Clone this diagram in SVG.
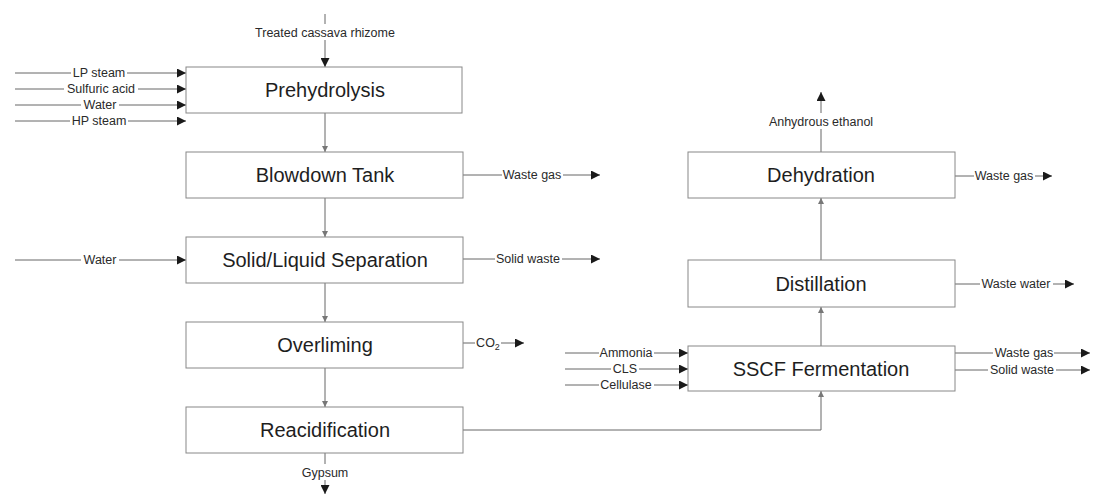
<svg xmlns="http://www.w3.org/2000/svg" width="1094" height="495" viewBox="0 0 1094 495">
<defs>
<marker id="ah" viewBox="0 0 10 10" refX="10" refY="5" markerWidth="9" markerHeight="9" markerUnits="userSpaceOnUse" orient="auto">
<path d="M0,0 L10,5 L0,10 Z" fill="#1a1a1a"/>
</marker>
<marker id="sm" viewBox="0 0 10 10" refX="10" refY="5" markerWidth="6" markerHeight="6" markerUnits="userSpaceOnUse" orient="auto">
<path d="M0,0 L10,5 L0,10 Z" fill="#777"/>
</marker>
</defs>
<style>
.box{fill:#fff;stroke:#888;stroke-width:1}
.bt{font-family:"Liberation Sans",Arial,sans-serif;font-size:20px;fill:#1e1e1e;text-anchor:middle}
.lb{font-family:"Liberation Sans",Arial,sans-serif;font-size:12.5px;fill:#2a2a2a;text-anchor:middle}
.ln{stroke:#666;stroke-width:1;fill:none}
.arr{marker-end:url(#ah)}
.sa{marker-end:url(#sm)}
.bg{fill:#fff}
</style>
<rect width="1094" height="495" fill="#fff"/>
<g id="connectors">
<line class="ln arr" x1="325" y1="14" x2="325" y2="67"/>
<line class="ln arr" x1="15" y1="73" x2="186" y2="73"/>
<line class="ln arr" x1="15" y1="89" x2="186" y2="89"/>
<line class="ln arr" x1="15" y1="105" x2="186" y2="105"/>
<line class="ln arr" x1="15" y1="121" x2="186" y2="121"/>
<line class="ln arr" x1="15" y1="260" x2="186" y2="260"/>
<line class="ln sa" x1="325" y1="113" x2="325" y2="152"/>
<line class="ln sa" x1="325" y1="198" x2="325" y2="237"/>
<line class="ln sa" x1="325" y1="283" x2="325" y2="322"/>
<line class="ln sa" x1="325" y1="368" x2="325" y2="407"/>
<line class="ln arr" x1="325" y1="453" x2="325" y2="494"/>
<line class="ln arr" x1="463" y1="175" x2="600" y2="175"/>
<line class="ln arr" x1="463" y1="259" x2="600" y2="259"/>
<line class="ln arr" x1="463" y1="343" x2="524" y2="343"/>
<polyline class="ln sa" points="463,430 821,430 821,391"/>
<line class="ln sa" x1="821" y1="346" x2="821" y2="307"/>
<line class="ln sa" x1="821" y1="260" x2="821" y2="198"/>
<line class="ln arr" x1="821" y1="152" x2="821" y2="92"/>
<line class="ln arr" x1="565" y1="353" x2="688" y2="353"/>
<line class="ln arr" x1="565" y1="369" x2="688" y2="369"/>
<line class="ln arr" x1="565" y1="385" x2="688" y2="385"/>
<line class="ln arr" x1="955" y1="176" x2="1052" y2="176"/>
<line class="ln arr" x1="955" y1="284" x2="1074" y2="284"/>
<line class="ln arr" x1="955" y1="353" x2="1090" y2="353"/>
<line class="ln arr" x1="955" y1="370" x2="1090" y2="370"/>
</g>
<g id="labels">
<rect class="bg" x="250" y="24" width="150" height="16"/>
<text class="lb" x="325" y="37">Treated cassava rhizome</text>
<rect class="bg" x="71" y="65" width="56" height="15"/>
<text class="lb" x="99" y="77">LP steam</text>
<rect class="bg" x="64" y="81" width="74" height="15"/>
<text class="lb" x="101" y="93">Sulfuric acid</text>
<rect class="bg" x="81" y="97" width="38" height="15"/>
<text class="lb" x="100" y="109">Water</text>
<rect class="bg" x="70" y="113" width="58" height="15"/>
<text class="lb" x="99" y="125">HP steam</text>
<rect class="bg" x="81" y="252" width="38" height="15"/>
<text class="lb" x="100" y="264">Water</text>
<rect class="bg" x="502" y="167" width="61" height="15"/>
<text class="lb" x="532" y="179">Waste gas</text>
<rect class="bg" x="495" y="251" width="67" height="15"/>
<text class="lb" x="528" y="263">Solid waste</text>
<rect class="bg" x="475" y="335" width="26" height="16"/>
<text class="lb" x="488" y="347">CO<tspan font-size="9" dy="3">2</tspan></text>
<rect class="bg" x="300" y="464" width="50" height="16"/>
<text class="lb" x="325" y="477">Gypsum</text>
<rect class="bg" x="765" y="113" width="112" height="16"/>
<text class="lb" x="821" y="126">Anhydrous ethanol</text>
<rect class="bg" x="974" y="168" width="61" height="15"/>
<text class="lb" x="1004" y="180">Waste gas</text>
<rect class="bg" x="980" y="276" width="73" height="15"/>
<text class="lb" x="1016" y="288">Waste water</text>
<rect class="bg" x="599" y="345" width="55" height="15"/>
<text class="lb" x="626" y="357">Ammonia</text>
<rect class="bg" x="611" y="361" width="28" height="15"/>
<text class="lb" x="625" y="373">CLS</text>
<rect class="bg" x="599" y="377" width="55" height="15"/>
<text class="lb" x="626" y="389">Cellulase</text>
<rect class="bg" x="993" y="345" width="61" height="15"/>
<text class="lb" x="1024" y="357">Waste gas</text>
<rect class="bg" x="988" y="362" width="68" height="15"/>
<text class="lb" x="1022" y="374">Solid waste</text>
</g>
<g id="n-prehydrolysis"><rect class="box" x="186" y="67" width="276" height="46"/><text class="bt" x="325" y="97">Prehydrolysis</text></g>
<g id="n-blowdown"><rect class="box" x="186" y="152" width="277" height="46"/><text class="bt" x="325" y="182">Blowdown Tank</text></g>
<g id="n-separation"><rect class="box" x="186" y="237" width="277" height="46"/><text class="bt" x="325" y="267">Solid/Liquid Separation</text></g>
<g id="n-overliming"><rect class="box" x="186" y="322" width="277" height="46"/><text class="bt" x="325" y="352">Overliming</text></g>
<g id="n-reacidification"><rect class="box" x="186" y="407" width="277" height="46"/><text class="bt" x="325" y="437">Reacidification</text></g>
<g id="n-dehydration"><rect class="box" x="688" y="152" width="267" height="46"/><text class="bt" x="821" y="182">Dehydration</text></g>
<g id="n-distillation"><rect class="box" x="688" y="260" width="267" height="47"/><text class="bt" x="821" y="291">Distillation</text></g>
<g id="n-sscf"><rect class="box" x="688" y="346" width="267" height="45"/><text class="bt" x="821" y="376">SSCF Fermentation</text></g>
</svg>
